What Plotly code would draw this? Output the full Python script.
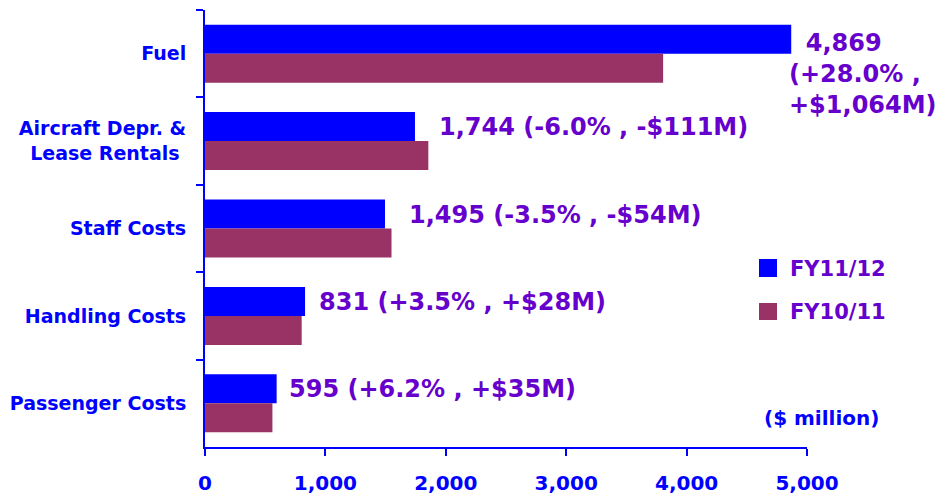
import plotly.graph_objects as go

categories = ["Fuel", "Aircraft Depr. &<br>Lease Rentals\u00a0", "Staff Costs", "Handling Costs", "Passenger Costs"]
fy1112 = [4869, 1744, 1495, 831, 595]
fy1011 = [3805, 1855, 1549, 803, 560]
pct_change = ["+28.0%", "-6.0%", "-3.5%", "+3.5%", "+6.2%"]
amt_change = ["+$1,064M", "-$111M", "-$54M", "+$28M", "+$35M"]
series_names = ["FY11/12", "FY10/11"]
x_ticks = [0, 1000, 2000, 3000, 4000, 5000]

BLUE = "#0000FF"
MAROON = "#993366"
PURPLE = "#6600CC"
FONT = "DejaVu Sans"

fig = go.Figure()
fig.add_trace(go.Bar(y=categories, x=fy1112, orientation="h", name=series_names[0],
                     marker=dict(color=BLUE, line=dict(width=0)), showlegend=False))
fig.add_trace(go.Bar(y=categories, x=fy1011, orientation="h", name=series_names[1],
                     marker=dict(color=MAROON, line=dict(width=0)), showlegend=False))

xshifts = [-4, 22, 22, 12, 10]
for i, (c, v, p, a) in enumerate(zip(categories, fy1112, pct_change, amt_change)):
    val = f"{v:,}"
    if i == 0:
        text = f"\u00a0\u00a0{val}<br>({p} ,<br>{a})"
        yshift = -20
    else:
        text = f"{val} ({p} , {a})"
        yshift = 14
    fig.add_annotation(x=v, y=c, xref="x", yref="y", text=text, showarrow=False,
                       xanchor="left", yanchor="middle", align="left",
                       xshift=xshifts[i], yshift=yshift,
                       font=dict(family=FONT, size=24, color=PURPLE, weight="bold"))

# custom legend
legend_y = [(0.389, 0.4302, 0.4073), (0.2906, 0.3295, 0.3089)]
for name, col, (y0, y1, yt) in zip(series_names, [BLUE, MAROON], legend_y):
    fig.add_shape(type="rect", xref="paper", yref="paper", x0=0.9203, x1=0.9502,
                  y0=y0, y1=y1, fillcolor=col, line=dict(width=0))
    fig.add_annotation(x=0.9684, y=yt, xref="paper", yref="paper", text=name,
                       showarrow=False, xanchor="left", yanchor="middle",
                       font=dict(family=FONT, size=21, color=PURPLE, weight="bold"))

fig.add_annotation(x=1.0233, y=0.0664, xref="paper", yref="paper", text="($ million)",
                   showarrow=False, xanchor="center", yanchor="middle",
                   font=dict(family=FONT, size=20, color=BLUE, weight="bold"))

fig.update_layout(
    width=938, height=495,
    margin=dict(l=205, r=131, t=10, b=48, autoexpand=False),
    paper_bgcolor="white", plot_bgcolor="white",
    barmode="group", bargap=0.336, bargroupgap=0,
    font=dict(family=FONT, color=BLUE, size=19, weight="bold"),
)
fig.update_xaxes(range=[0, 5000], tickvals=x_ticks, tickformat=",d", automargin=False,
                 showgrid=False, zeroline=False, showline=True, linecolor=BLUE, linewidth=2,
                 ticks="outside", ticklen=7, tickcolor=BLUE, tickwidth=2,
                 ticklabelstandoff=10,
                 tickfont=dict(family=FONT, size=20, color=BLUE, weight="bold"))
fig.update_yaxes(range=[4.5, -0.5], type="category", tickson="boundaries", automargin=False,
                 showgrid=False, zeroline=False, showline=True, linecolor=BLUE, linewidth=2,
                 ticks="outside", ticklen=7, tickcolor=BLUE, tickwidth=2,
                 ticklabelstandoff=13,
                 tickfont=dict(family=FONT, size=19, color=BLUE, weight="bold"))

fig.write_html("out.html", config={"displayModeBar": False},
               post_script="document.body.style.margin='0';document.body.style.overflow='hidden';")
